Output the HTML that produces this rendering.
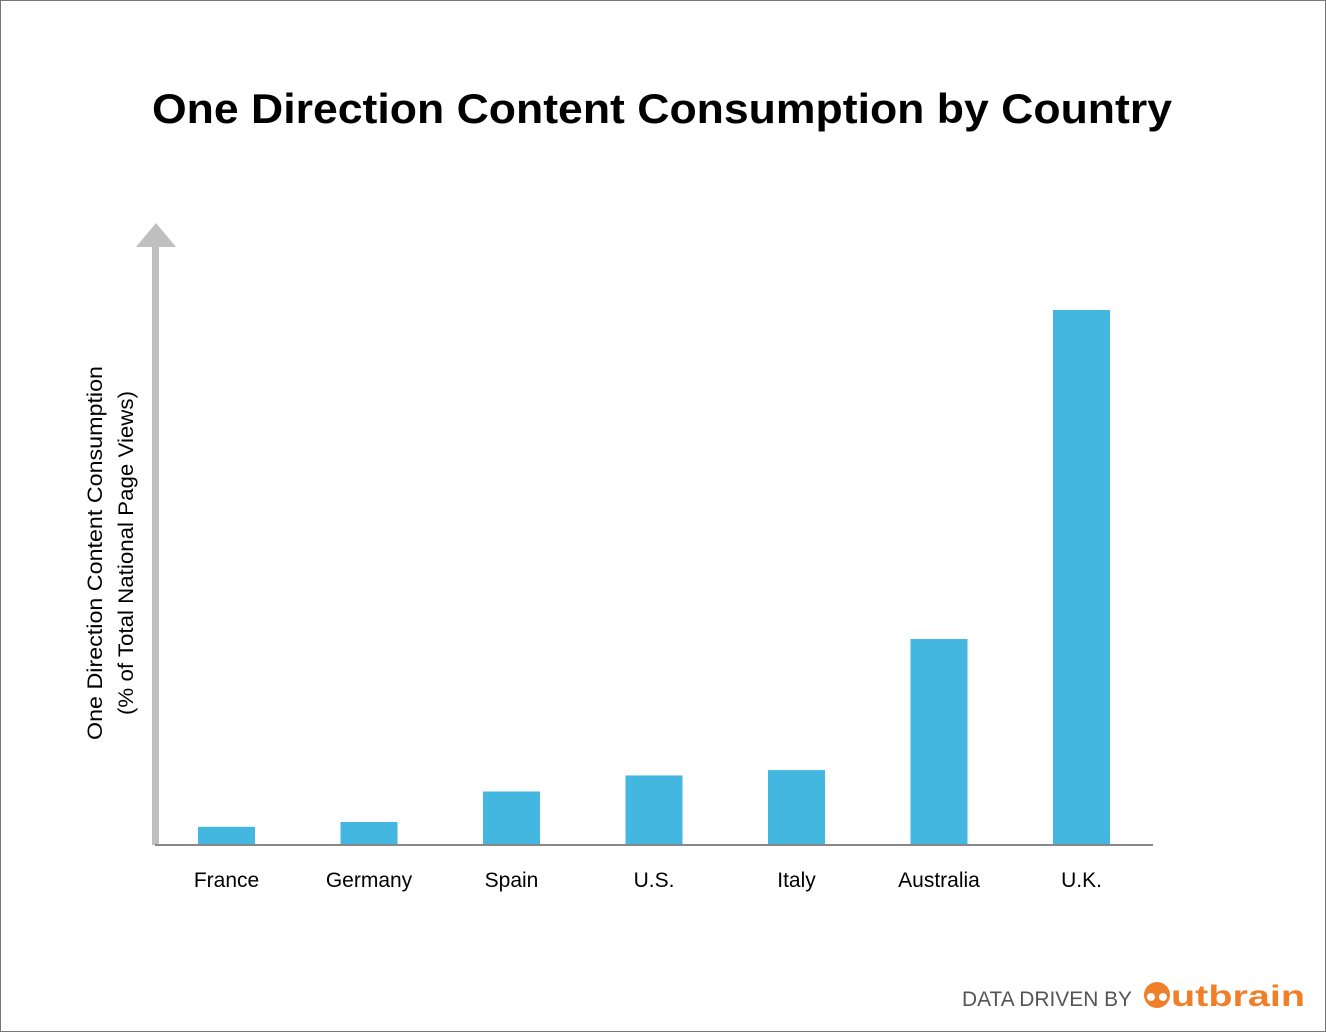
<!DOCTYPE html>
<html><head><meta charset="utf-8"><style>
html,body{margin:0;padding:0;background:#fff;}
svg{display:block;font-family:"Liberation Sans",sans-serif;}
</style></head><body>
<svg id="chart" width="1326" height="1032" viewBox="0 0 1326 1032">
<rect x="0.5" y="0.5" width="1325" height="1031" fill="#fff" stroke="#777" stroke-width="1"/>
<text x="662" y="123" text-anchor="middle" font-size="42" font-weight="bold" fill="#000" textLength="1020" lengthAdjust="spacingAndGlyphs">One Direction Content Consumption by Country</text>
<g>
<rect x="152" y="245" width="7" height="600" fill="#c0c0c0"/>
<polygon points="156,223 176,247 136,247" fill="#c0c0c0"/>
</g>
<g font-size="21" fill="#000">
<text transform="translate(102,553) rotate(-90)" text-anchor="middle" textLength="374" lengthAdjust="spacingAndGlyphs">One Direction Content Consumption</text>
<text transform="translate(133,553) rotate(-90)" text-anchor="middle" textLength="324" lengthAdjust="spacingAndGlyphs">(% of Total National Page Views)</text>
</g>
<g id="bars"></g>
<line x1="155" y1="845" x2="1153" y2="845" stroke="#888" stroke-width="2"/>
<g id="labels"></g>
<g>
<text x="962" y="1006" font-size="21" fill="#555" textLength="170" lengthAdjust="spacingAndGlyphs">DATA DRIVEN BY</text>
<g>
<circle cx="1157" cy="995" r="13" fill="#f07f2a"/>
<circle cx="1151" cy="997" r="4" fill="#fff"/>
<circle cx="1163" cy="997" r="4" fill="#fff"/>
<text x="1171" y="1006" font-size="30" font-weight="bold" fill="#f07f2a" textLength="134" lengthAdjust="spacingAndGlyphs">utbrain</text>
</g>
</g>
</svg>
<script>
const categories = ["France","Germany","Spain","U.S.","Italy","Australia","U.K."];
const values = [0.34, 0.43, 1.0, 1.3, 1.4, 3.85, 10.0];
const yMax = 10.0;
const NS = "http://www.w3.org/2000/svg";
function xCenter(i){ return 226.5 + i * 142.5; }
function yScale(v){ return 845 - v / yMax * 535; }
const bars = document.getElementById('bars');
const labels = document.getElementById('labels');
categories.forEach((c, i) => {
  const r = document.createElementNS(NS, 'rect');
  
  
  const top = yScale(values[i]);
  r.setAttribute('x', xCenter(i) - 28.5);
  r.setAttribute('y', top);
  r.setAttribute('width', 57);
  r.setAttribute('height', 845 - top);
  r.setAttribute('fill', '#43b7e0');
  bars.appendChild(r);
  const t = document.createElementNS(NS, 'text');
  
  
  t.setAttribute('x', xCenter(i));
  t.setAttribute('y', 887);
  t.setAttribute('text-anchor', 'middle');
  t.setAttribute('font-size', '21');
  t.setAttribute('fill', '#000');
  t.textContent = c;
  labels.appendChild(t);
});
</script>
</body></html>
